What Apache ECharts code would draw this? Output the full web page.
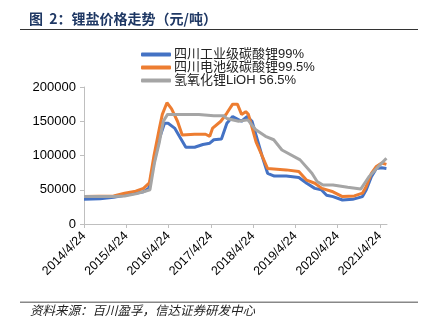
<!DOCTYPE html>
<html><head><meta charset="utf-8">
<script src="https://cdn.jsdelivr.net/npm/echarts@6/dist/echarts.min.js"></script>
<style>html,body{margin:0;padding:0;background:#fff}#c{width:432px;height:322px}</style>
</head><body><div id="c"></div>
<script>
var seriesNames = ['四川工业级碳酸锂99%', '四川电池级碳酸锂99.5%', '氢氧化锂LiOH 56.5%'];
var xTickLabels = ['2014/4/24','2015/4/24','2016/4/24','2017/4/24','2018/4/24','2019/4/24','2020/4/24','2021/4/24'];
var yTicks = [0, 50000, 100000, 150000, 200000];

var industrialDates = ['2014-04-24','2014-09-10','2015-01-05','2015-04-10','2015-09-20','2015-11-05','2015-12-20','2016-02-05','2016-03-20','2016-04-20','2016-06-15','2016-09-20','2016-12-05','2017-02-15','2017-04-15','2017-05-20','2017-07-25','2017-09-10','2017-10-30','2018-01-15','2018-03-05','2018-04-15','2018-07-10','2018-08-28','2018-10-25','2019-02-05','2019-05-25','2019-08-01','2019-10-10','2019-12-05','2020-01-20','2020-03-15','2020-06-05','2020-09-01','2020-11-25','2020-12-28','2021-02-10','2021-03-25','2021-05-10','2021-06-20'];
var industrialValues = [36000,37000,39000,42000,47000,52000,90000,125000,147000,147000,140000,112000,112000,116000,118000,123000,124000,147000,157000,150000,157000,150000,100000,74000,70000,70000,68000,59500,52000,50000,42000,40000,35000,36000,40000,50000,69000,81000,82000,81000];

var batteryDates = ['2014-04-24','2015-01-05','2015-04-10','2015-07-15','2015-09-20','2015-11-10','2015-12-20','2016-02-05','2016-03-01','2016-04-10','2016-05-20','2016-07-10','2016-08-20','2016-12-05','2017-03-10','2017-04-15','2017-05-10','2017-07-20','2017-09-10','2017-10-30','2017-12-10','2018-01-15','2018-02-20','2018-03-15','2018-05-20','2018-08-28','2019-02-05','2019-05-25','2019-08-01','2019-10-10','2019-12-10','2020-03-15','2020-06-05','2020-09-15','2020-11-25','2020-12-28','2021-02-10','2021-03-25','2021-05-10','2021-06-20'];
var batteryValues = [40000,41000,45000,48000,52000,60000,100000,140000,160000,177000,168000,150000,130000,131000,131000,128000,140000,150000,162000,175000,175000,160000,164000,160000,120000,81000,79000,76500,64000,59500,52000,47000,40000,41000,45000,55000,74000,84000,89000,87000];

var hydroxideDates = ['2014-04-24','2015-01-05','2015-04-10','2015-07-15','2015-09-20','2015-11-15','2015-12-25','2016-02-05','2016-03-10','2016-04-15','2017-01-10','2017-05-20','2017-08-15','2017-09-10','2017-12-20','2018-03-10','2018-05-15','2018-08-10','2018-10-20','2018-12-30','2019-06-05','2019-09-15','2019-10-30','2019-12-20','2020-03-15','2020-07-20','2020-11-10','2021-01-20','2021-04-24','2021-06-20'];
var hydroxideValues = [40000,40000,41000,44000,47000,50000,90000,120000,150000,160000,160000,158000,158000,154000,150000,152000,138000,128000,123000,108000,93600,74000,62000,57000,57000,53700,51000,69000,86000,96000];

var T0 = Date.UTC(2014, 3, 24);
var YEAR = 365.25 * 86400000;
function toX(d) { var p = d.split('-'); return (Date.UTC(+p[0], +p[1] - 1, +p[2]) - T0) / YEAR; }
function pairs(ds, vs) { return ds.map(function (d, i) { return [toX(d), vs[i]]; }); }

var colors = ['#4472C4', '#ED7D31', '#A5A5A5'];
var tickVals = xTickLabels.map(function (l, i) { return i; });
var FONT = '"Liberation Sans", Arial, "Noto Sans CJK SC", sans-serif';

var chart = echarts.init(document.getElementById('c'), null, { renderer: 'canvas' });
chart.setOption({
  animation: false,
  color: colors,
  textStyle: { fontFamily: FONT },
  grid: { left: 84, top: 87, right: 45, bottom: 98, containLabel: false },
  legend: {
    orient: 'vertical', left: 136, top: 43, itemWidth: 30, itemHeight: 4, itemGap: 0,
    icon: 'roundRect',
    textStyle: { fontSize: 13, color: '#222', fontFamily: FONT, lineHeight: 12.5, padding: [0, 0, 0, -2] },
    data: seriesNames
  },
  xAxis: {
    type: 'value', min: 0, max: toX('2021-06-25'),
    splitLine: { show: false },
    axisLine: { lineStyle: { color: '#bfbfbf', width: 1 } },
    axisTick: { show: true, length: 4, customValues: tickVals, lineStyle: { color: '#bfbfbf' } },
    axisLabel: {
      customValues: tickVals, rotate: 45, fontSize: 12.5, color: '#000', margin: 10,
      formatter: function (v) { var i = Math.round(v); return xTickLabels[i] || ''; }
    }
  },
  yAxis: {
    type: 'value', min: yTicks[0], max: yTicks[yTicks.length - 1], interval: 50000,
    splitLine: { show: false },
    axisLine: { show: true, lineStyle: { color: '#bfbfbf', width: 1 } },
    axisTick: { show: true, length: 4, lineStyle: { color: '#bfbfbf' } },
    axisLabel: { fontSize: 13, color: '#000', margin: 8, formatter: function (v) { return String(v); } }
  },
  series: [
    { name: seriesNames[0], type: 'line', data: pairs(industrialDates, industrialValues), showSymbol: false, lineStyle: { width: 3 }, z: 2 },
    { name: seriesNames[1], type: 'line', data: pairs(batteryDates, batteryValues), showSymbol: false, lineStyle: { width: 3 }, z: 3 },
    { name: seriesNames[2], type: 'line', data: pairs(hydroxideDates, hydroxideValues), showSymbol: false, lineStyle: { width: 3 }, z: 4 }
  ],
  graphic: [
    { type: 'text', left: 29, top: 12, style: { text: '图  2：锂盐价格走势（元/吨）', fontSize: 14, fontWeight: 'bold', fill: '#1f3864', fontFamily: '"Noto Sans CJK SC", sans-serif' } },
    { type: 'rect', shape: { x: 20, y: 29, width: 398, height: 1 }, style: { fill: '#333' } },
    { type: 'rect', shape: { x: 20, y: 301.5, width: 398, height: 1.5 }, style: { fill: '#888' } },
    { type: 'text', left: 30, top: 304, style: { text: '资料来源：百川盈孚，信达证券研发中心', fontSize: 12.5, fontStyle: 'italic', fill: '#222', fontFamily: '"Noto Sans CJK SC", sans-serif' } }
  ]
});
</script></body></html>
